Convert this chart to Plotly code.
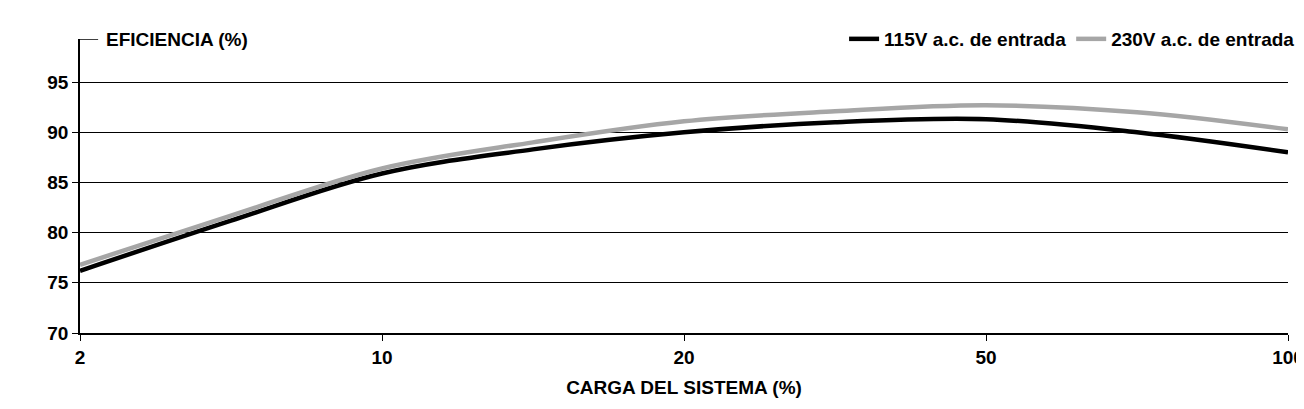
import plotly.graph_objects as go

tick_labels = ["2", "10", "20", "50", "100"]
load_pos = [0, 0.5, 1, 1.5, 2, 2.5, 3, 3.5, 4]
eff_115 = [76.2, 81.2, 85.9, 88.3, 90.0, 91.0, 91.3, 90.0, 88.0]
eff_230 = [76.8, 81.7, 86.4, 89.0, 91.1, 92.1, 92.7, 92.0, 90.3]

font = dict(family="Liberation Sans, Arial", size=19, color="black", weight="bold")
fig = go.Figure()
fig.add_trace(go.Scatter(x=load_pos, y=eff_115, mode="lines", name="115V a.c. de entrada",
                         line=dict(color="black", width=4.5, shape="spline")))
fig.add_trace(go.Scatter(x=load_pos, y=eff_230, mode="lines", name="230V a.c. de entrada",
                         line=dict(color="#a6a6a6", width=4.5, shape="spline")))
fig.update_layout(
    width=1304, height=409, plot_bgcolor="white", paper_bgcolor="white",
    margin=dict(l=72, r=21, t=25, b=84), font=font,
    legend=dict(orientation="h", x=1.01, xanchor="right", y=1.0, yanchor="middle",
                font=font, bgcolor="rgba(255,255,255,0)", traceorder="normal"),
    xaxis=dict(range=[0, 4], tickvals=list(range(5)), ticktext=tick_labels,
               showgrid=False, showline=True, linecolor="black", linewidth=1.5,
               ticks="outside", ticklen=6, tickcolor="black", tickfont=font, automargin=False,
               title=dict(text="CARGA DEL SISTEMA (%)", standoff=14, font=font)),
    yaxis=dict(range=[70, 99.3], tickvals=[70, 75, 80, 85, 90, 95],
               showgrid=True, gridcolor="black", gridwidth=1, tickfont=font, automargin=False,
               showline=True, linecolor="black", linewidth=1.5,
               ticks="outside", ticklen=6, tickcolor="black", zeroline=False),
)
fig.add_shape(type="line", xref="paper", yref="y", x0=0, x1=0.015, y0=99.3, y1=99.3,
              line=dict(color="black", width=1.5))
fig.add_annotation(xref="paper", yref="y", x=0.02, y=99.3, text="EFICIENCIA (%)",
                   showarrow=False, xanchor="left", yanchor="middle", font=font)
fig.write_html("out.html")
